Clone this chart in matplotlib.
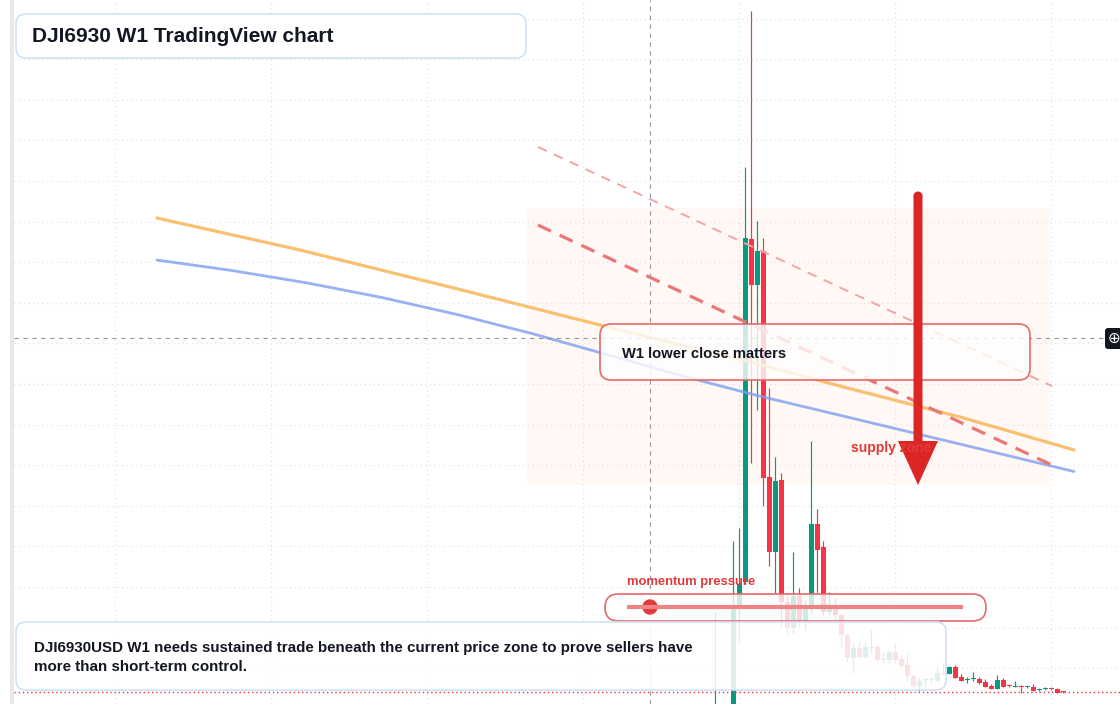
import matplotlib

matplotlib.use("Agg")
import matplotlib.pyplot as plt
import numpy as np
from matplotlib.patches import FancyBboxPatch, FancyArrow, Rectangle, Circle

plt.rcParams["font.family"] = ["Liberation Sans", "DejaVu Sans"]

UP = "#089981"
DOWN = "#f23645"
GRID = "#dcdee4"
ZONE = "#fff8f4"
INK = "#131722"
BLUE_EDGE = "#d3e1f5"
RED_EDGE = "#e46a6a"
ALERT = "#e03a3a"

# ---------- data: weekly candles ----------
weeks = np.arange(59)
opens = [-40, -12, -38, -31, 100.3, 124.9, 462.8, 417.5, 451.3, 228.4,
         154.5, 225.4, 105.2, 79.6, 111.1, 85.5, 100.3, 182.0, 159.4, 95.3,
         99.3, 92.4, 72.7, 50.3, 59.6, 51.3, 59.6, 60.6, 47.8, 48.1,
         56.2, 48.8, 43.1, 32.6, 22.4, 28.1, 28.7, 27.4, 34.5, 34.2,
         40.9, 31.0, 28.1, 29.0, 29.3, 26.7, 22.4, 19.8, 28.4, 22.7,
         21.5, 22.1, 21.5, 21.7, 18.8, 19.5, 20.2, 19.2, 16.8]
highs = [95, -8, -20, 165.3, 177.8, 533.8, 687.5, 480.6, 464.1, 316.0,
         248.1, 232.3, 114.1, 154.5, 119.0, 107.2, 263.8, 196.8, 165.3, 115.0,
         109.2, 94.4, 74.7, 65.1, 66.1, 66.1, 77.6, 62.8, 56.2, 57.9,
         65.1, 53.0, 54.0, 33.3, 31.6, 30.0, 31.6, 40.9, 44.8, 42.1,
         43.1, 33.9, 31.6, 35.9, 31.6, 29.0, 24.1, 33.3, 30.0, 24.4,
         27.7, 23.4, 22.7, 24.4, 20.7, 21.7, 21.2, 20.2, 17.5]
lows = [-60, -55, -58, -52, 65.1, 123.0, 242.1, 294.4, 199.8, 140.7,
        114.1, 79.6, 72.7, 73.7, 81.6, 77.6, 94.4, 114.1, 92.4, 92.4,
        84.5, 60.9, 46.1, 35.5, 50.0, 50.0, 55.0, 46.4, 45.4, 44.8,
        44.8, 41.2, 28.4, 21.7, 17.8, 21.7, 25.7, 27.4, 33.3, 34.2,
        30.0, 27.4, 25.7, 27.4, 24.4, 21.7, 19.8, 19.8, 21.5, 21.2,
        21.2, 15.9, 20.2, 17.5, 17.5, 18.2, 18.5, 15.9, 15.9]
closes = [-12, -38, -31, 100.3, 122.9, 463.8, 417.5, 451.3, 227.1, 154.5,
          224.4, 105.2, 79.6, 111.1, 85.5, 100.3, 182.0, 156.4, 95.3, 98.3,
          92.4, 72.7, 50.0, 59.6, 51.3, 60.6, 60.6, 48.1, 48.4, 56.2,
          48.1, 42.1, 32.3, 22.4, 27.4, 28.7, 29.0, 34.9, 33.9, 40.9,
          30.6, 27.7, 28.7, 29.6, 25.7, 21.7, 19.8, 28.4, 21.7, 22.1,
          22.1, 21.5, 22.1, 17.5, 19.5, 20.2, 19.5, 15.9, 16.3]

# moving averages (sampled along the curves)
orange_weeks = [-93.05, -69.2, -44.2, -19.2, 5.8, 20.75, 40.8, 59.8]
orange_ma = [483.5, 452.0, 415.5, 378.1, 341.7, 318.0, 287.5, 255.0]
blue_weeks = [-93.05, -80.55, -68.05, -55.55, -43.05, -30.55, -18.05, -5.55,
              6.95, 22.45, 40.78, 59.78]
blue_ma = [442.1, 431.8, 419.6, 405.2, 388.5, 369.7, 349.0, 328.0,
           308.7, 286.8, 260.8, 233.8]

# trend lines and supply zone
upper_trend_weeks = [-29.55, 56.1]
upper_trend = [553.5, 318.0]
lower_trend_weeks = [-29.55, 56.45]
lower_trend = [476.6, 239.2]
zone_weeks = [-31.4, 55.8]
zone_prices = [220.5, 493.4]

grid_prices = np.arange(40, 681, 40)
grid_weeks = [-100, -74, -48, -22, 4, 30, 56]
cross_week = -10.9
cross_price = 365.3

# ---------- chart ----------
fig = plt.figure(figsize=(11.2, 7.04), dpi=100)
fig.patch.set_facecolor("white")
ax = fig.add_axes([0, 0, 1, 1])
ax.set_xlim(-119.2, 67.45)
ax.set_ylim(4.73, 698.3)
ax.axis("off")

ax.add_patch(Rectangle((zone_weeks[0], zone_prices[0]), zone_weeks[1] - zone_weeks[0],
                       zone_prices[1] - zone_prices[0], fc=ZONE, ec="none", zorder=0.5))

left = 14 / 1120
for p in grid_prices:
    ax.axhline(p, xmin=left, color=GRID, lw=0.8, ls=(0, (1, 3.2)), zorder=1)
for w in grid_weeks:
    ax.axvline(w, color=GRID, lw=0.8, ls=(0, (1, 3.2)), zorder=1)

o = np.array(opens)
c = np.array(closes)
col = np.where(c >= o, UP, DOWN)
ax.vlines(weeks, lows, highs, colors=col, lw=0.85, zorder=2)
ax.bar(weeks, np.maximum(np.abs(c - o), 0.9), bottom=np.minimum(o, c), width=0.85,
       color=col, lw=0, zorder=2.1)

ax.plot(orange_weeks, orange_ma, color="#f7b24f", lw=2.3, alpha=0.8, zorder=3,
        solid_capstyle="round")
ax.plot(blue_weeks, blue_ma, color="#7f9ef0", lw=2.0, alpha=0.8, zorder=3,
        solid_capstyle="round")

ax.plot(upper_trend_weeks, upper_trend, color="#f2a5a5", lw=1.4, ls=(0, (5, 4)), zorder=3.2)
ax.plot(lower_trend_weeks, lower_trend, color="#eb7676", lw=2.3, ls=(0, (4.5, 3)), zorder=3.2)

ax.axvline(cross_week, color="#9598a1", lw=0.8, ls=(0, (4, 4)), zorder=3.5)
ax.axhline(cross_price, xmin=left, xmax=1105 / 1120, color="#9598a1", lw=0.8,
           ls=(0, (4, 4)), zorder=3.5)
ax.axhline(closes[-1], xmin=left, color=DOWN, lw=1.0, ls=(0, (1, 2)), zorder=3.5)

# ---------- annotation layer (pixel coordinates) ----------
ov = fig.add_axes([0, 0, 1, 1])
ov.set_xlim(0, 1120)
ov.set_ylim(704, 0)
ov.axis("off")
ov.patch.set_alpha(0)

ov.add_patch(Rectangle((10, 0), 4, 704, fc="#e9e9e9", ec="none"))


def card(x, y, w, h, ec, r=10, alpha=0.82, lw=1.2):
    ov.add_patch(FancyBboxPatch((x, y), w, h, boxstyle=f"round,pad=0,rounding_size={r}",
                                fc=(1, 1, 1, alpha), ec=ec, lw=lw))


card(16, 14, 510, 44, BLUE_EDGE, alpha=1.0)
ov.text(32, 36.5, "DJI6930 W1 TradingView chart", fontsize=15, fontweight="bold",
        color=INK, va="center", ha="left")

card(600, 324, 430, 56, RED_EDGE, r=11, alpha=0.8)
ov.text(622, 354, "W1 lower close matters", fontsize=10.6, fontweight="bold",
        color=INK, va="center", ha="left")

ov.text(851, 448, "supply zone", fontsize=10, fontweight="bold", color=ALERT,
        va="center", ha="left")
ov.add_patch(FancyArrow(918, 196, 0, 289, width=9, head_width=40, head_length=44,
                        length_includes_head=True, color="#dc2626", lw=0))
ov.add_patch(Circle((918, 196), 4.5, color="#dc2626", lw=0))

ov.text(627, 582.5, "momentum pressure", fontsize=9.4, fontweight="bold", color=ALERT,
        va="center", ha="left")
card(605, 594, 381, 27, RED_EDGE, r=13.5, alpha=0.8)
ov.plot([627, 963], [607, 607], color="#f08383", lw=3, solid_capstyle="butt")
ov.add_patch(Circle((650, 607), 7, color=ALERT))

card(16, 622, 930, 68, BLUE_EDGE, alpha=0.86)
ov.text(34, 657.5, "DJI6930USD W1 needs sustained trade beneath the current price zone to prove sellers have\n"
        "more than short-term control.", fontsize=10.9, fontweight="bold", color=INK,
        va="center", ha="left", linespacing=1.42)

ov.add_patch(FancyBboxPatch((1105, 328), 20, 21, boxstyle="round,pad=0,rounding_size=3",
                            fc="#131722", ec="none"))
ov.text(1114, 338.5, "\u2295", fontsize=11, color="white", va="center", ha="center",
        family="DejaVu Sans")

fig.savefig("out.png", dpi=100, facecolor="white")
